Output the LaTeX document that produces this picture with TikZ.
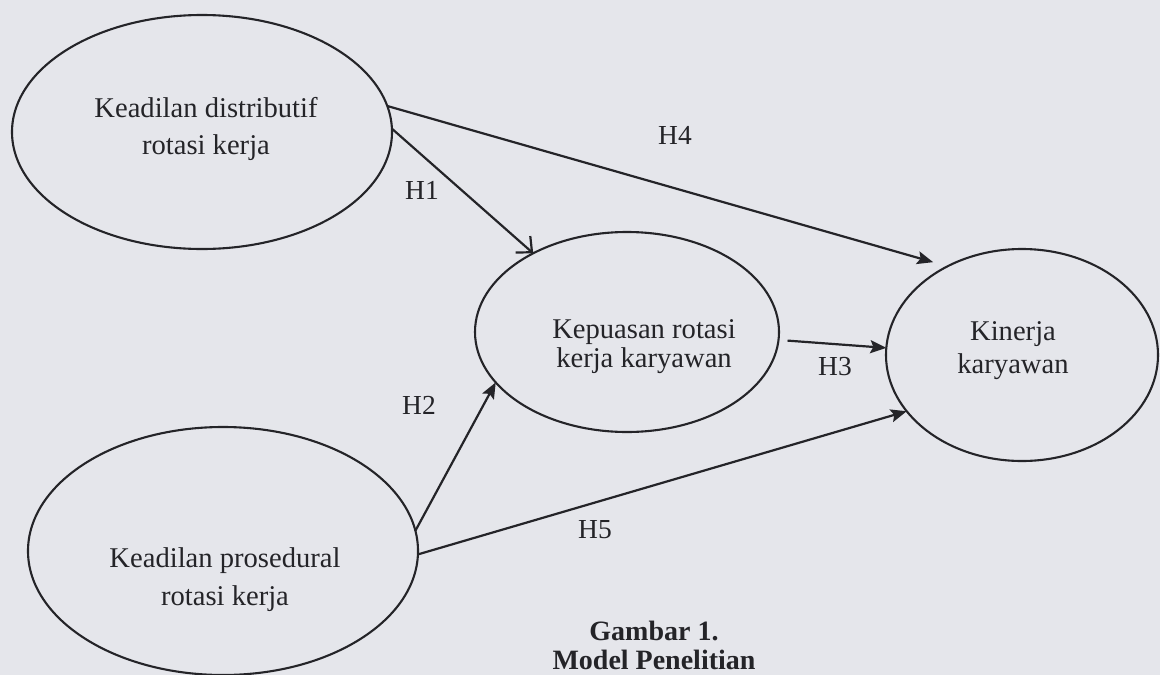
\documentclass[tikz,border=0pt]{standalone}
\usepackage{fontspec}
\setmainfont{Liberation Serif}
\usetikzlibrary{shapes.geometric,arrows.meta}
\definecolor{bg}{RGB}{229,230,235}
\definecolor{ink}{RGB}{36,36,40}
\begin{document}
\begin{tikzpicture}[x=1pt,y=-1pt,
  oval/.style={ellipse,draw=ink,line width=2.1pt,inner sep=0pt,outer sep=0pt},
  txt/.style={text=ink,align=center,inner sep=0pt},
  hyp/.style={text=ink,font=\fontsize{27.5}{27.5}\selectfont,inner sep=0pt},
  captiontext/.style={text=ink,align=center,inner sep=0pt,font=\fontsize{28}{29}\selectfont\bfseries},
  link/.style={draw=ink,line width=2.2pt,-{Stealth[length=16pt,width=13pt,inset=3pt]}},
  openlink/.style={draw=ink,line width=2.2pt,-{Straight Barb[length=12pt,width=22pt]}}
]
\fill[bg] (0,0) rectangle (1160,675);
\useasboundingbox (0,0) rectangle (1160,675);

% ellipses
\node[oval,minimum width=380pt,minimum height=234pt] (e1) at (202,132) {};
\node[oval,minimum width=304pt,minimum height=200pt] (e2) at (627,332) {};
\node[oval,minimum width=272pt,minimum height=212pt] (e3) at (1022,355) {};
\node[oval,minimum width=390pt,minimum height=248pt] (e4) at (223,551) {};

% texts
\node[txt,font=\fontsize{28.6}{37}\selectfont] (t1) at (206,129) {Keadilan distributif\\rotasi kerja};
\node[txt,font=\fontsize{28.6}{29}\selectfont] (t2) at (644,347) {Kepuasan rotasi\\kerja karyawan};
\node[txt,font=\fontsize{28.6}{33}\selectfont] (t3) at (1013,351) {Kinerja\\karyawan};
\node[txt,font=\fontsize{28.6}{38}\selectfont] (t4) at (225,580) {Keadilan prosedural\\rotasi kerja};

% connectors
\draw[openlink] (e1.1) -- (e2.140);
\draw[link,shorten >=15pt] (e1.8) -- (e3.130);
\draw[link] (e4.6) -- (e2.201);
\draw[link] (e4.-1) -- (e3.206);
\draw[link,shorten <=9pt] (e2.-3) -- (e3.177);

% labels
\node[hyp] (h1) at (422,190) {H1};
\node[hyp] (h4) at (675,135) {H4};
\node[hyp] (h3) at (835,367) {H3};
\node[hyp] (h2) at (419,405) {H2};
\node[hyp] (h5) at (595,530) {H5};

% caption
\node[captiontext] (capt) at (654,645) {Gambar 1.\\Model Penelitian};
\end{tikzpicture}
\end{document}
